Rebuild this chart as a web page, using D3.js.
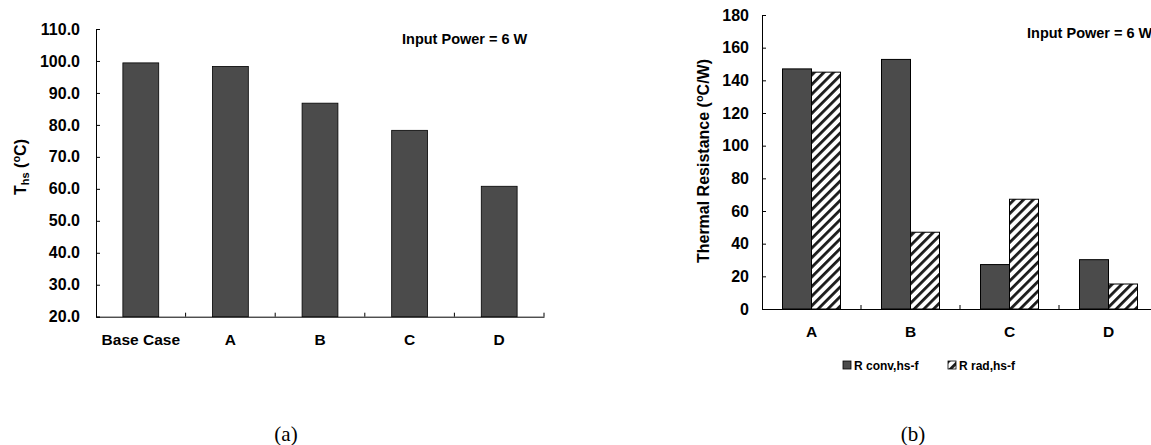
<!DOCTYPE html>
<html>
<head>
<meta charset="utf-8">
<script src="https://cdn.jsdelivr.net/npm/d3@7"></script>
<style>
  body { margin: 0; background: #fff; }
  text { font-family: Arial, "Liberation Sans", sans-serif; font-weight: bold; fill: #000; }
  .caption { font-family: "Times New Roman", "Liberation Serif", serif; font-weight: normal; }
</style>
</head>
<body>
<div class="chart"></div>
<script>
// chart (a) data
var casesA = ["Base Case", "A", "B", "C", "D"];
var tempA = [99.4, 98.3, 86.8, 78.3, 60.8];
var ticksA = [20, 30, 40, 50, 60, 70, 80, 90, 100, 110];

// chart (b) data
var casesB = ["A", "B", "C", "D"];
var rConv = [147, 152.8, 27.2, 30.2];
var rRad = [145, 47, 67.2, 15.3];
var ticksB = [0, 20, 40, 60, 80, 100, 120, 140, 160, 180];
var seriesNames = ["R conv,hs-f", "R rad,hs-f"];

var svgWidth = 1151;
var svgHeight = 445;
var barColor = "#4b4b4b";

var svg = d3.select(".chart")
  .append("svg")
  .attr("width", svgWidth)
  .attr("height", svgHeight);

// hatch pattern for radiation bars
var defs = svg.append("defs");
var pat = defs.append("pattern")
  .attr("id", "hatch")
  .attr("patternUnits", "userSpaceOnUse")
  .attr("width", 6.8)
  .attr("height", 6.8)
  .attr("patternTransform", "rotate(45)");
pat.append("rect").attr("width", 6.8).attr("height", 6.8).attr("fill", "#fff");
pat.append("rect").attr("x", 0).attr("width", 2.8).attr("height", 6.8).attr("fill", "#1a1a1a");

//-----------------------------------------------------------------------------------------------
// CHART (a)

var xA = d3.scaleBand().domain(casesA).range([96, 544]).padding(0);
var yA = d3.scaleLinear().domain([20, 110]).range([316.7, 29]);

var gA = svg.append("g");

gA.append("g")
  .attr("transform", "translate(96,0)")
  .call(d3.axisLeft(yA).tickValues(ticksA).tickFormat(d3.format(".1f")).tickSize(-4).tickPadding(16))
  .call(g => g.select(".domain").attr("stroke", "#000"))
  .call(g => g.selectAll("text").style("font-size", "16px").attr("font-family", null));

gA.append("g")
  .attr("transform", `translate(0,${yA(20)})`)
  .call(d3.axisBottom(xA).tickSize(0).tickPadding(17))
  .call(g => g.select(".domain").attr("stroke", "#000"))
  .call(g => g.selectAll("text").style("font-size", "15.5px").attr("font-family", null));

// category separators
gA.selectAll(".sep")
  .data(casesA)
  .enter()
  .append("line")
  .attr("x1", d => xA(d) + xA.step())
  .attr("x2", d => xA(d) + xA.step())
  .attr("y1", yA(20))
  .attr("y2", yA(20) - 4)
  .attr("stroke", "#000");

var bwA = xA.step() * 0.4;
gA.selectAll(".bar")
  .data(tempA)
  .enter()
  .append("rect")
  .attr("x", (d, i) => xA(casesA[i]) + xA.bandwidth() / 2 - bwA / 2)
  .attr("y", d => yA(d))
  .attr("width", bwA)
  .attr("height", d => yA(20) - yA(d))
  .attr("fill", barColor)
  .attr("stroke", "#000")
  .attr("stroke-width", 0.8);

gA.append("text")
  .attr("x", 402).attr("y", 44)
  .style("font-size", "14.5px")
  .text("Input Power = 6 W");

var labA = gA.append("text")
  .attr("transform", "translate(26,167) rotate(-90)")
  .attr("text-anchor", "middle")
  .style("font-size", "16px");
labA.append("tspan").text("T");
labA.append("tspan").attr("dy", 3).style("font-size", "11px").text("hs");
labA.append("tspan").attr("dy", -3).text(" (");
labA.append("tspan").attr("dy", -6).style("font-size", "11px").text("o");
labA.append("tspan").attr("dy", 6).text("C)");

svg.append("text").attr("class", "caption")
  .attr("x", 286).attr("y", 441)
  .attr("text-anchor", "middle")
  .style("font-size", "21px")
  .text("(a)");

//-----------------------------------------------------------------------------------------------
// CHART (b)

var xB = d3.scaleBand().domain(casesB).range([762, 1158]).padding(0);
var yB = d3.scaleLinear().domain([0, 180]).range([309, 15]);

var gB = svg.append("g");

gB.append("g")
  .attr("transform", "translate(762,0)")
  .call(d3.axisLeft(yB).tickValues(ticksB).tickSize(-4).tickPadding(13))
  .call(g => g.select(".domain").attr("stroke", "#000"))
  .call(g => g.selectAll("text").style("font-size", "16px").attr("font-family", null));

gB.append("g")
  .attr("transform", `translate(0,${yB(0)})`)
  .call(d3.axisBottom(xB).tickSize(0).tickPadding(17))
  .call(g => g.select(".domain").attr("stroke", "#000"))
  .call(g => g.selectAll("text").style("font-size", "15.5px").attr("font-family", null));

gB.selectAll(".sep")
  .data(casesB.slice(1))
  .enter()
  .append("line")
  .attr("x1", d => xB(d))
  .attr("x2", d => xB(d))
  .attr("y1", yB(0))
  .attr("y2", yB(0) - 4)
  .attr("stroke", "#000");

var bwB = 29;
var fills = [barColor, "url(#hatch)"];
[rConv, rRad].forEach(function(series, s) {
  gB.selectAll(".bar" + s)
    .data(series)
    .enter()
    .append("rect")
    .attr("x", (d, i) => xB(casesB[i]) + xB.bandwidth() / 2 - bwB + s * bwB)
    .attr("y", d => yB(d))
    .attr("width", bwB)
    .attr("height", d => yB(0) - yB(d))
    .attr("fill", fills[s])
    .attr("stroke", "#000")
    .attr("stroke-width", 1);
});

gB.append("text")
  .attr("x", 1027).attr("y", 37.5)
  .style("font-size", "14.5px")
  .text("Input Power = 6 W");

var labB = gB.append("text")
  .attr("transform", "translate(709,161) rotate(-90)")
  .attr("text-anchor", "middle")
  .style("font-size", "16px");
labB.append("tspan").text("Thermal Resistance (");
labB.append("tspan").attr("dy", -6).style("font-size", "11px").text("o");
labB.append("tspan").attr("dy", 6).text("C/W)");

// legend
var legX = [843, 948];
seriesNames.forEach(function(name, s) {
  gB.append("rect")
    .attr("x", legX[s]).attr("y", 361)
    .attr("width", 8).attr("height", 8)
    .attr("fill", fills[s])
    .attr("stroke", "#000")
    .attr("stroke-width", 0.8);
  gB.append("text")
    .attr("x", legX[s] + 11).attr("y", 369.5)
    .style("font-size", "12px")
    .text(name);
});

svg.append("text").attr("class", "caption")
  .attr("x", 913).attr("y", 441)
  .attr("text-anchor", "middle")
  .style("font-size", "21px")
  .text("(b)");
</script>
</body>
</html>
